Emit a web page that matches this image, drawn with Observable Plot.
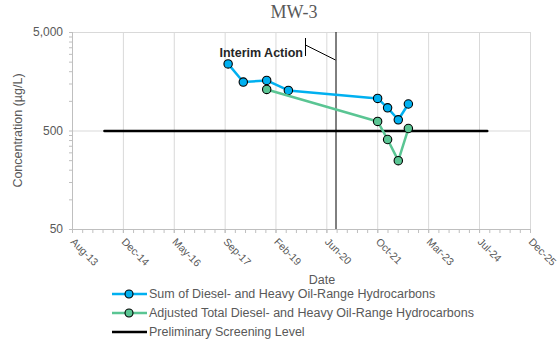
<!DOCTYPE html>
<html><head><meta charset="utf-8">
<script src="https://cdn.jsdelivr.net/npm/d3@7"></script>
<script src="https://cdn.jsdelivr.net/npm/@observablehq/plot@0.6"></script>
<style>
body{margin:0;background:#fff;font-family:"Liberation Sans",Arial,sans-serif;}
#wrap{position:relative;width:559px;height:343px;overflow:hidden;}
#chart{position:absolute;left:0;top:0;}
#title{position:absolute;left:0;top:-1px;width:588px;text-align:center;font:18px "Liberation Serif",serif;color:#595959;line-height:26px}
#ylabel{position:absolute;left:-82px;top:123px;width:200px;text-align:center;font-size:12.5px;color:#595959;line-height:15px;transform:rotate(-90deg);transform-origin:100px 7.5px}
#xlabel{position:absolute;left:272px;width:100px;top:273px;text-align:center;font-size:12.5px;color:#595959;line-height:15px}
#legend{position:absolute;left:112px;top:284px;font-size:12.5px;color:#595959}
.row{height:19px;display:flex;align-items:center;white-space:nowrap}
.row svg{margin-right:0}
</style></head><body>
<div id="wrap"><div id="chart"></div><div id="title">MW-3</div><div id="ylabel"></div><div id="xlabel">Date</div><div id="legend"></div></div>
<script>
// ---- data ----
const sumDates = ["2017-10-21","2018-03-19","2018-11-04","2019-06-05","2021-10-29","2022-02-04","2022-05-20","2022-08-27"];
const sumValues = [2400, 1570, 1630, 1290, 1070, 860, 650, 940];
const adjDates = ["2018-11-04","2021-10-29","2022-02-04","2022-05-20","2022-08-27"];
const adjValues = [1320, 625, 410, 250, 530];
const screenDates = ["2014-06-24","2024-10-10"];
const screenValues = [500, 500];
const interimDate = "2020-09-15";
const interimLabel = "Interim Action";
const xTickDates = ["2013-08-14","2014-12-27","2016-05-10","2017-09-22","2019-02-03","2020-06-17","2021-10-30","2023-03-14","2024-07-26","2025-12-09"];
const yTicks = [50, 500, 5000];
const yLabel = "Concentration (µg/L)";
const seriesNames = ["Sum of Diesel- and Heavy Oil-Range Hydrocarbons","Adjusted Total Diesel- and Heavy Oil-Range Hydrocarbons","Preliminary Screening Level"];
const seriesColors = ["#00b0f0","#5ac593","#000000"];

// ---- build ----
const P = d3.utcParse("%Y-%m-%d");
const sumData = sumDates.map((d,i)=>({date:P(d), value:sumValues[i]}));
const adjData = adjDates.map((d,i)=>({date:P(d), value:adjValues[i]}));
const screenData = screenDates.map((d,i)=>({date:P(d), value:screenValues[i]}));
const xMajor = xTickDates.map(P);
const xStart = xMajor[0], xEnd = xMajor[xMajor.length-1];
const xMinor = d3.range(0, 4501, 100).map(k => d3.utcDay.offset(xStart, k));
const yMinor = [];
for (const base of [50, 500]) for (let k=2;k<=9;k++) yMinor.push(base*k);
const interim = P(interimDate);
const grid = "#d9d9d9", axisC = "#bfbfbf", txt = "#595959";
const fmtX = d3.utcFormat("%b-%y"), fmtY = d3.format(",");

const plot = Plot.plot({
  width: 559, height: 290,
  marginTop: 32, marginLeft: 72, marginRight: 29, marginBottom: 61,
  style: {fontFamily: '"Liberation Sans", Arial, sans-serif', fontSize: "12px", background: "white", overflow: "visible"},
  x: {type: "utc", domain: [xStart, xEnd], axis: null},
  y: {type: "log", domain: [50, 5000], axis: null},
  marks: [
    Plot.gridX(xMajor, {stroke: grid, strokeOpacity: 1}),
    Plot.gridY(yTicks, {stroke: grid, strokeOpacity: 1}),
    Plot.axisY(yMinor.concat(yTicks), {tickSize: 3, text: null, stroke: axisC, label: null}),
    Plot.text(yTicks, {y: d => d, frameAnchor: "left", dx: -9.5, textAnchor: "end", text: d => fmtY(d), fontSize: 12, fill: txt}),
    Plot.axisX(xMinor.concat(xMajor), {tickSize: 4, text: null, stroke: axisC, label: null}),
    Plot.text(xMajor, {x: d => d, frameAnchor: "bottom", dy: 13, dx: -2.5, rotate: 45, textAnchor: "start", text: d => fmtX(d), fontSize: 10.5, fill: txt}),
    Plot.ruleX([xStart], {stroke: axisC}),
    Plot.ruleY([50], {stroke: axisC}),
    Plot.line(screenData, {x: "date", y: "value", stroke: seriesColors[2], strokeWidth: 2.6}),
    Plot.ruleX([interim], {stroke: "#000", strokeWidth: 1}),
    Plot.text([interim], {x: d => d, frameAnchor: "top", dy: 16, dx: -33, text: () => interimLabel, textAnchor: "end",
      fontWeight: "bold", fontSize: 12.5, fill: "#262626"}),
    Plot.line(sumData, {x: "date", y: "value", stroke: seriesColors[0], strokeWidth: 2.5}),
    Plot.dot(sumData, {x: "date", y: "value", r: 4.2, fill: seriesColors[0], stroke: "#000", strokeWidth: 1.1}),
    Plot.line(adjData, {x: "date", y: "value", stroke: seriesColors[1], strokeWidth: 2.5}),
    Plot.dot(adjData, {x: "date", y: "value", r: 4.2, fill: seriesColors[1], stroke: "#000", strokeWidth: 1.1})
  ]
});
document.getElementById("chart").appendChild(plot);
document.getElementById("ylabel").textContent = yLabel;

// leader line for the annotation, placed through the x scale
const lx = plot.scale("x").apply(interim);
const plotTop = 32;
const svgSel = d3.select(plot);
svgSel.append("line").attr("x1", lx-30).attr("x2", lx-30).attr("y1", plotTop+6).attr("y2", plotTop+24).attr("stroke", "#000").attr("stroke-width", 1);
svgSel.append("line").attr("x1", lx-30).attr("y1", plotTop+13).attr("x2", lx).attr("y2", plotTop+28).attr("stroke", "#000").attr("stroke-width", 1);

// legend
const leg = d3.select("#legend");
seriesNames.forEach((name, i) => {
  const row = leg.append("div").attr("class", "row");
  const s = row.append("svg").attr("width", 37).attr("height", 12);
  s.append("line").attr("x1", 0).attr("x2", 35).attr("y1", 6).attr("y2", 6).attr("stroke", seriesColors[i]).attr("stroke-width", 2.5);
  if (i < 2) s.append("circle").attr("cx", 17).attr("cy", 6).attr("r", 4).attr("fill", seriesColors[i]).attr("stroke", "#000").attr("stroke-width", 1.1);
  row.append("span").text(name);
});
</script>
</body></html>
